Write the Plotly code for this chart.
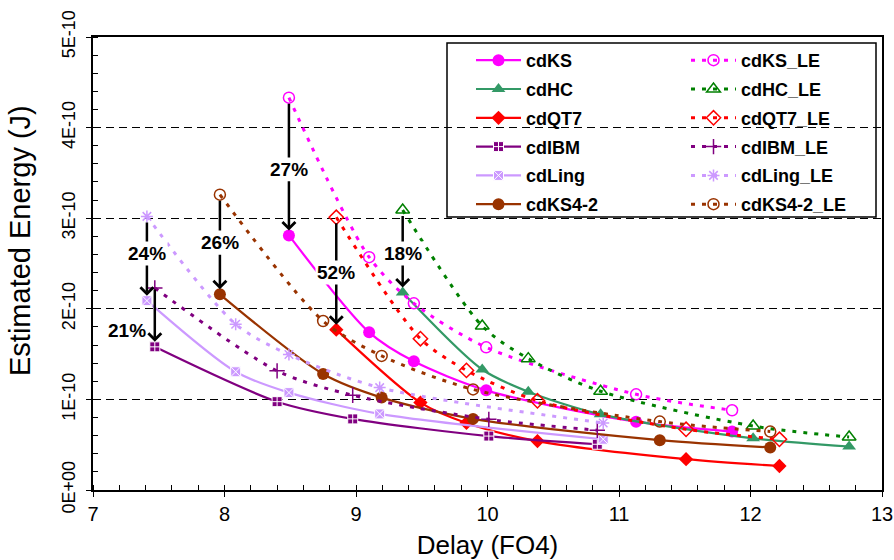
import numpy as np
import plotly.graph_objects as go

# ---------------- data (energy in units of 1E-10 J) ----------------
ks_x = [8.49, 9.10, 9.44, 9.99, 11.13, 11.86]
ks_y = [2.81, 1.74, 1.42, 1.10, 0.754, 0.645]
ks_le_y = [4.33, 2.57, 2.06, 1.575, 1.056, 0.88]

hc_x = [9.355, 9.96, 10.31, 10.86, 12.02, 12.75]
hc_y = [2.18, 1.33, 1.085, 0.835, 0.57, 0.48]
hc_le_y = [3.09, 1.81, 1.45, 1.09, 0.706, 0.585]

qt7_x = [8.85, 9.49, 9.84, 10.38, 11.51, 12.22]
qt7_y = [1.77, 0.965, 0.74, 0.54, 0.34, 0.265]
qt7_le_y = [3.01, 1.67, 1.32, 0.985, 0.67, 0.56]

ibm_x = [7.47, 8.40, 8.975, 10.01, 10.835]
ibm_y = [1.58, 0.975, 0.785, 0.595, 0.505]
ibm_le_y = [2.23, 1.315, 1.045, 0.78, 0.66]

ling_x = [7.41, 8.085, 8.49, 9.18, 10.88]
ling_y = [2.09, 1.305, 1.075, 0.84, 0.56]
ling_le_y = [3.02, 1.83, 1.495, 1.13, 0.74]

ks42_x = [7.965, 8.75, 9.195, 9.89, 11.31, 12.15]
ks42_y = [2.16, 1.28, 1.02, 0.785, 0.55, 0.47]
ks42_le_y = [3.26, 1.865, 1.48, 1.11, 0.755, 0.645]

y_tick_vals = [0, 1, 2, 3, 4, 5]
y_tick_text = ["0E+00", "1E-10", "2E-10", "3E-10", "4E-10", "5E-10"]

# reduction labels: (series, label, label height in 1E-10 J)
reductions = [
    ("ks", "27%", 3.54),
    ("ks42", "26%", 2.73),
    ("ling", "24%", 2.61),
    ("qt7", "52%", 2.40),
    ("hc", "18%", 2.61),
]
ibm_label = "21%"
ibm_label_y = 1.76

SCALE = 1e-10
FONT = "Arial, Liberation Sans, sans-serif"

# plot-area geometry in pixels (for paper-coordinate placement of legend box / titles)
L, R, T, B = 93, 882, 37, 490
PW, PH = R - L, B - T


def px_x(p):
    return (p - L) / PW


def px_y(p):
    return (B - p) / PH


series = {
    "ks": dict(name="cdKS", x=ks_x, y=ks_y, le=ks_le_y, color="#FF00FF", le_color="#FF00FF",
               sym="circle", le_sym="circle-open", size=12, le_size=11),
    "hc": dict(name="cdHC", x=hc_x, y=hc_y, le=hc_le_y, color="#339966", le_color="#008000",
               sym="triangle-up", le_sym="triangle-up-open", size=12, le_size=12),
    "qt7": dict(name="cdQT7", x=qt7_x, y=qt7_y, le=qt7_le_y, color="#FF0000", le_color="#FF0000",
                sym="diamond", le_sym="diamond-open", size=11, le_size=11),
    "ibm": dict(name="cdIBM", x=ibm_x, y=ibm_y, le=ibm_le_y, color="#800080", le_color="#800080",
                sym="square-cross", le_sym="cross-thin-open", size=10, le_size=11),
    "ling": dict(name="cdLing", x=ling_x, y=ling_y, le=ling_le_y, color="#CC99FF", le_color="#CC99FF",
                 sym="square-x", le_sym="asterisk-open", size=10, le_size=10),
    "ks42": dict(name="cdKS4-2", x=ks42_x, y=ks42_y, le=ks42_le_y, color="#993300", le_color="#993300",
                 sym="circle", le_sym="circle-open", size=12, le_size=11),
}

fig = go.Figure()
for key, s in series.items():
    y = np.array(s["y"]) * SCALE
    filled = s["sym"] in ("square-cross", "square-x")
    fig.add_trace(go.Scatter(
        x=s["x"], y=y, name=s["name"], mode="lines+markers",
        legend="legend", legendgroup=s["name"],
        line=dict(color=s["color"], width=2.2, shape="spline", smoothing=0.8),
        marker=dict(symbol=s["sym"], size=s["size"], color=s["color"],
                    line=dict(color="white" if filled else s["color"], width=1 if filled else 0)),
    ))
for key, s in series.items():
    yle = np.array(s["le"]) * SCALE
    fig.add_trace(go.Scatter(
        x=s["x"], y=yle, name=s["name"] + "_LE", mode="lines+markers",
        legend="legend2", legendgroup=s["name"] + "_LE",
        line=dict(color=s["le_color"], width=3, dash="4px,7px", shape="spline", smoothing=0.8),
        marker=dict(symbol=s["le_sym"], size=s["le_size"], color=s["le_color"],
                    line=dict(color=s["le_color"], width=1.5)),
    ))

annotations = []
for key, label, ly in reductions:
    s = series[key]
    x0 = s["x"][0]
    top = s["le"][0] * SCALE
    annotations.append(dict(x=x0, y=top, ax=x0, ay=ly * SCALE, xref="x", yref="y",
                            axref="x", ayref="y", text="", showarrow=True, arrowhead=0,
                            arrowwidth=2.5, arrowcolor="black", standoff=6))
for key, label, ly in reductions:
    s = series[key]
    x0 = s["x"][0]
    bot = s["y"][0] * SCALE
    annotations.append(dict(x=x0, y=bot, ax=x0, ay=ly * SCALE, xref="x", yref="y",
                            axref="x", ayref="y", text=label, showarrow=True, arrowhead=4,
                            arrowsize=1, arrowwidth=2.5, arrowcolor="black", standoff=5,
                            bgcolor="white", borderpad=1,
                            font=dict(family=FONT, size=19, color="black", weight="bold")))
# 21% arrow for cdIBM
annotations.append(dict(x=ibm_x[0], y=ibm_y[0] * SCALE, ax=ibm_x[0], ay=ibm_le_y[0] * SCALE,
                        xref="x", yref="y", axref="x", ayref="y", text="", showarrow=True,
                        arrowhead=4, arrowsize=1, arrowwidth=2.5, arrowcolor="black", standoff=5))
annotations.append(dict(x=ibm_x[0], y=ibm_label_y * SCALE, xref="x", yref="y", text=ibm_label,
                        showarrow=False, xanchor="right", xshift=-7,
                        font=dict(family=FONT, size=19, color="black", weight="bold")))
# y-axis title
annotations.append(dict(x=px_x(20), y=px_y(241), xref="paper", yref="paper",
                        text="Estimated Energy (J)", textangle=-90, showarrow=False,
                        xanchor="center", yanchor="middle",
                        font=dict(family=FONT, size=29, color="black")))

legend_common = dict(orientation="v", xanchor="left", yanchor="top", bgcolor="rgba(0,0,0,0)",
                     borderwidth=0, itemwidth=45, tracegroupgap=2.4, traceorder="grouped",
                     font=dict(family=FONT, size=18, color="black", weight="bold"))

fig.update_layout(
    width=894, height=560,
    margin=dict(l=L, r=894 - R, t=T, b=560 - B, autoexpand=False),
    paper_bgcolor="white", plot_bgcolor="white",
    font=dict(family=FONT, color="black"),
    showlegend=True,
    annotations=annotations,
    shapes=[dict(type="rect", xref="paper", yref="paper",
                 x0=px_x(447), x1=px_x(876), y0=px_y(217), y1=px_y(43),
                 line=dict(color="black", width=1.5), fillcolor="white", layer="below")],
    legend=dict(x=px_x(471), y=px_y(42), **legend_common),
    legend2=dict(x=px_x(686), y=px_y(42), **legend_common),
    xaxis=dict(range=[7, 13], tick0=7, dtick=1, showgrid=False, zeroline=False,
               showline=True, linecolor="black", linewidth=1.5, mirror=True,
               ticks="outside", ticklen=5, tickcolor="black", tickwidth=1,
               ticklabeloverflow="allow",
               minor=dict(dtick=0.2, ticks="inside", ticklen=5, tickcolor="black", showgrid=False),
               tickfont=dict(family=FONT, size=20),
               title=dict(text="Delay (FO4)", font=dict(family=FONT, size=26), standoff=12)),
    yaxis=dict(range=[0, 5e-10], tickvals=[v * SCALE for v in y_tick_vals], ticktext=y_tick_text,
               tickangle=-90, showgrid=True, gridcolor="black", gridwidth=1, griddash="8px,5px",
               zeroline=False, showline=True, linecolor="black", linewidth=1.5, mirror=True,
               ticks="outside", ticklen=5, tickcolor="black", tickwidth=1, ticklabelstandoff=4,
               ticklabeloverflow="allow",
               minor=dict(dtick=0.2e-10, ticks="inside", ticklen=5, tickcolor="black", showgrid=False),
               tickfont=dict(family=FONT, size=18)),
)

fig.write_html("out.html", config={"displayModeBar": False},
               post_script="document.body.style.margin='0';")
